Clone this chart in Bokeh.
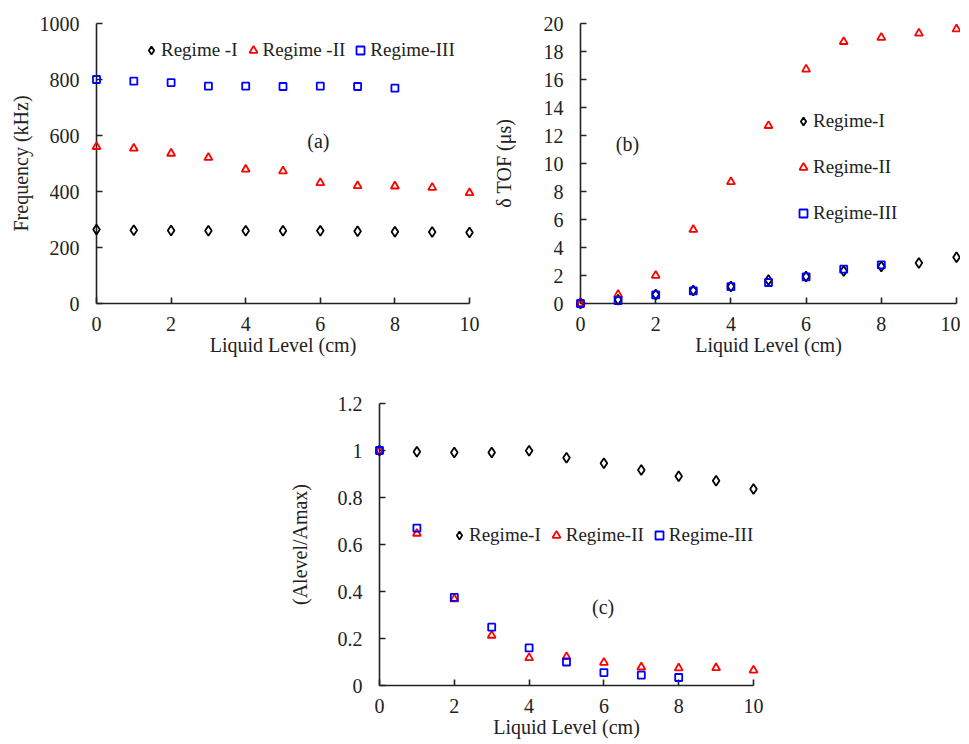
from bokeh.plotting import figure
from bokeh.models import (Range1d, FixedTicker, Legend, LegendItem, Label, Spacer,
                          CustomJSTickFormatter)
from bokeh.layouts import column, row
from bokeh.embed import file_html
from bokeh.resources import INLINE

# ---------------- data ----------------
levels_full = [0, 1, 2, 3, 4, 5, 6, 7, 8, 9, 10]
levels_short = [0, 1, 2, 3, 4, 5, 6, 7, 8]

freq_I = [264, 262, 261, 260, 260, 260, 260, 258, 256, 255, 254]
freq_II = [560, 554, 536, 521, 479, 473, 431, 420, 419, 414, 395]
freq_III = [800, 794, 789, 776, 776, 775, 776, 775, 769]

tof_I = [0, 0.26, 0.64, 0.92, 1.22, 1.67, 1.93, 2.33, 2.64, 2.9, 3.3]
tof_II = [0, 0.64, 2.0, 5.28, 8.69, 12.7, 16.73, 18.7, 19.0, 19.3, 19.6]
tof_III = [0, 0.21, 0.61, 0.9, 1.2, 1.5, 1.9, 2.45, 2.76]

amp_I = [1.0, 0.995, 0.992, 0.992, 0.999, 0.969, 0.946, 0.917, 0.89, 0.871, 0.836]
amp_II = [1.0, 0.647, 0.368, 0.213, 0.118, 0.122, 0.098, 0.078, 0.074, 0.075, 0.065]
amp_III = [1.0, 0.67, 0.375, 0.248, 0.16, 0.10, 0.055, 0.044, 0.034]

x_ticks = [0, 2, 4, 6, 8, 10]
freq_ticks = [0, 200, 400, 600, 800, 1000]
tof_ticks = [0, 2, 4, 6, 8, 10, 12, 14, 16, 18, 20]
amp_ticks = [0, 0.2, 0.4, 0.6, 0.8, 1.0, 1.2]

labels_a = ["Regime -I", "Regime -II", "Regime-III"]
labels_bc = ["Regime-I", "Regime-II", "Regime-III"]

FONT = "Liberation Serif"


def style(p, yticks, ylabel, y_standoff):
    p.outline_line_color = None
    p.grid.visible = False
    p.background_fill_color = "white"
    p.border_fill_color = "white"
    for ax in (p.xaxis[0], p.yaxis[0]):
        ax.axis_line_color = "#222222"
        ax.axis_line_width = 1.6
        ax.major_tick_line_color = "#222222"
        ax.major_tick_line_width = 1.6
        ax.major_tick_in = 6
        ax.major_tick_out = 0
        ax.minor_tick_line_color = None
        ax.major_label_text_font = FONT
        ax.major_label_text_font_size = "20px"
        ax.major_label_text_color = "#222222"
        ax.axis_label_text_font = FONT
        ax.axis_label_text_font_size = "20px"
        ax.axis_label_text_font_style = "normal"
        ax.axis_label_text_color = "#222222"
    p.xaxis[0].ticker = FixedTicker(ticks=x_ticks)
    p.yaxis[0].ticker = FixedTicker(ticks=yticks)
    p.xaxis[0].axis_label = "Liquid Level (cm)"
    p.yaxis[0].axis_label = ylabel
    p.xaxis[0].major_label_standoff = 13
    p.xaxis[0].axis_label_standoff = 0
    p.yaxis[0].major_label_standoff = 17
    p.yaxis[0].axis_label_standoff = y_standoff


def add_series(p, xs, ys):
    rs = []
    specs = [
        dict(marker="diamond", size=10, line_color="black"),
        dict(marker="triangle", size=8, line_color="red"),
        dict(marker="square", size=7, line_color="blue"),
    ]
    for x, y, sp in zip(xs, ys, specs):
        r = p.scatter(x=x, y=y, marker=sp["marker"], size=sp["size"],
                      line_color=sp["line_color"], fill_color=None, line_width=1.8,
                      level="overlay")
        rs.append(r)
    return rs


def add_legend(p, rs, labels, loc, orientation, spacing):
    leg = Legend(items=[LegendItem(label=l, renderers=[r]) for l, r in zip(labels, rs)],
                 location=loc, orientation=orientation, spacing=spacing,
                 padding=0, margin=0, glyph_width=20, glyph_height=20,
                 label_height=20, label_standoff=0,
                 label_text_font=FONT, label_text_font_size="19px",
                 label_text_color="#222222",
                 border_line_color=None, background_fill_alpha=0)
    p.add_layout(leg)


def add_tag(p, text, x, y):
    p.add_layout(Label(x=x, y=y, text=text, text_font=FONT, text_font_size="20px",
                       text_align="center", text_baseline="middle", text_color="#222222"))


# ---------------- panel (a) ----------------
pa = figure(width=480, height=361, output_backend="svg", toolbar_location=None,
            x_range=Range1d(0, 10), y_range=Range1d(0, 1000),
            min_border_left=96, min_border_right=11, min_border_top=23, min_border_bottom=58)
style(pa, freq_ticks, "Frequency (kHz)", 5)
ra = add_series(pa, [levels_full, levels_full, levels_short], [freq_I, freq_II, freq_III])
add_legend(pa, ra, labels_a, (45, 242), "horizontal", 5)
add_tag(pa, "(a)", 5.95, 579)

# ---------------- panel (b) ----------------
pb = figure(width=480, height=361, output_backend="svg", toolbar_location=None,
            x_range=Range1d(0, 10), y_range=Range1d(0, 20),
            min_border_left=100, min_border_right=4, min_border_top=18, min_border_bottom=58)
style(pb, tof_ticks, "δ TOF (μs)", 26)
rb = add_series(pb, [levels_full, levels_full, levels_short], [tof_I, tof_II, tof_III])
add_legend(pb, rb, labels_bc, (213, 79), "vertical", 24)
add_tag(pb, "(b)", 1.25, 11.37)

# ---------------- panel (c) ----------------
pc = figure(width=480, height=382, output_backend="svg", toolbar_location=None,
            x_range=Range1d(0, 10), y_range=Range1d(0, 1.2),
            min_border_left=90, min_border_right=12, min_border_top=42, min_border_bottom=58)
style(pc, amp_ticks, "(Alevel/Amax)", 24)
pc.yaxis[0].formatter = CustomJSTickFormatter(code="return String(Math.round(tick*10)/10)")
rc = add_series(pc, [levels_full, levels_full, levels_short], [amp_I, amp_II, amp_III])
add_legend(pc, rc, labels_bc, (70, 139), "horizontal", 5)
add_tag(pc, "(c)", 5.98, 0.336)

layout = column(row(pa, pb), row(Spacer(width=285, height=10), pc))

open("out.html", "w").write(file_html(layout, INLINE))
